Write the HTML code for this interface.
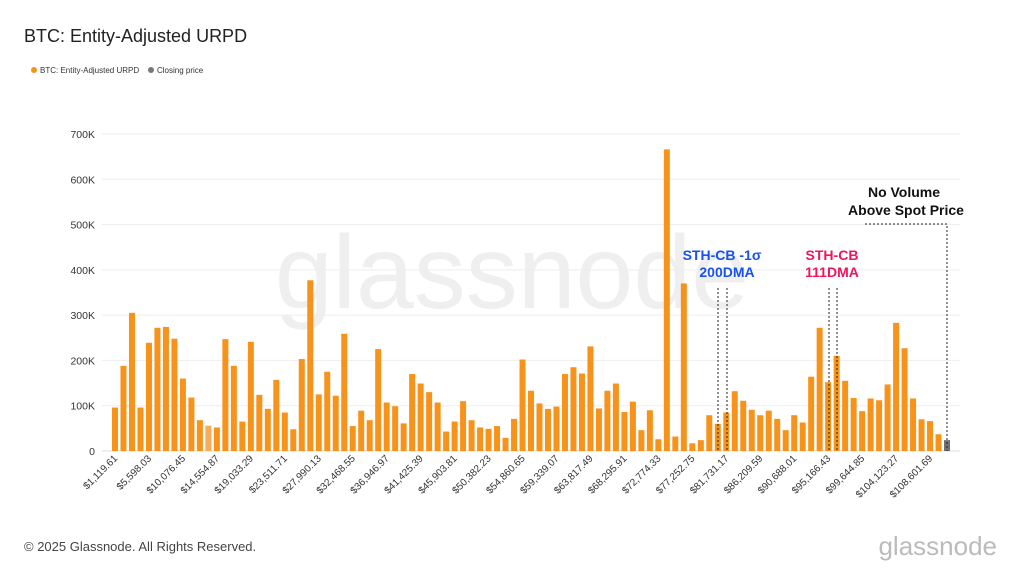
<!DOCTYPE html>
<html><head><meta charset="utf-8"><style>
body{margin:0;width:1024px;height:576px;background:#fff;font-family:"Liberation Sans",sans-serif;overflow:hidden}
</style></head><body>
<svg width="1024" height="576" xmlns="http://www.w3.org/2000/svg" id="chart">
<text x="24" y="42" font-size="18" fill="#222">BTC: Entity-Adjusted URPD</text>
<g>
<circle cx="34" cy="70" r="3" fill="#f7931a"/>
<text x="40" y="73" font-size="8" fill="#333">BTC: Entity-Adjusted URPD</text>
<circle cx="151" cy="70" r="3" fill="#777"/>
<text x="157" y="73" font-size="8" fill="#333">Closing price</text>
</g>
<text x="512" y="308" font-size="104" fill="#efefef" text-anchor="middle">glassnode</text>
<g id="grid"></g><g id="bars"></g><g id="xl"></g>
<g font-weight="bold" font-size="14" text-anchor="middle">
<text x="722" y="260" fill="#1652f0">STH-CB -1σ</text>
<text x="727" y="277" fill="#1652f0">200DMA</text>
<text x="832" y="260" fill="#f0145a">STH-CB</text>
<text x="832" y="277" fill="#f0145a">111DMA</text>
<text x="904" y="197" fill="#111">No Volume</text>
<text x="906" y="215" fill="#111">Above Spot Price</text>
<g stroke="#222" stroke-width="1" stroke-dasharray="2,2" fill="none">
<line x1="718" y1="288" x2="718" y2="451"/><line x1="727" y1="288" x2="727" y2="451"/>
<line x1="829" y1="288" x2="829" y2="451"/><line x1="837" y1="288" x2="837" y2="451"/>
<polyline points="865,224 947,224 947,451"/>
</g></g>
<text x="24" y="551" font-size="13" fill="#444">© 2025 Glassnode. All Rights Reserved.</text>
<text x="997" y="555" font-size="26" fill="#bbb" text-anchor="end">glassnode</text>
</svg>
<script>
const values=[96,188,305,96,239,272,274,248,160,118,68,56,52,247,188,65,241,124,93,157,85,48,203,377,125,175,122,259,55,89,68,225,107,99,61,170,149,130,107,43,65,110,68,52,49,55,29,71,202,133,105,93,98,170,185,171,231,94,133,149,86,109,46,90,26,666,32,370,17,24,79,60,85,132,111,91,79,89,71,46,79,63,164,272,152,210,155,117,88,116,112,147,283,227,116,70,66,37,24];
const yTicks=[0,100,200,300,400,500,600,700];
const yTickLabels=["0","100K","200K","300K","400K","500K","600K","700K"];
const xLabels=["$1,119.61","$5,598.03","$10,076.45","$14,554.87","$19,033.29","$23,511.71","$27,990.13","$32,468.55","$36,946.97","$41,425.39","$45,903.81","$50,382.23","$54,860.65","$59,339.07","$63,817.49","$68,295.91","$72,774.33","$77,252.75","$81,731.17","$86,209.59","$90,688.01","$95,166.43","$99,644.85","$104,123.27","$108,601.69"];
const NS="http://www.w3.org/2000/svg";
const y=v=>451-v*0.4529;
const x=i=>115+i*8.49;
const g=document.getElementById('grid'),b=document.getElementById('bars'),xl=document.getElementById('xl');
yTicks.forEach((t,k)=>{
 const l=document.createElementNS(NS,'line');
 l.setAttribute('x1',102);l.setAttribute('x2',960);l.setAttribute('y1',y(t));l.setAttribute('y2',y(t));
 l.setAttribute('stroke',k==0?'#ddd':'#eee');
 
 
 g.appendChild(l);
 const tx=document.createElementNS(NS,'text');
 tx.setAttribute('x',95);tx.setAttribute('y',y(t)+4);tx.setAttribute('text-anchor','end');tx.setAttribute('font-size','10.5');tx.setAttribute('fill','#333');
 tx.textContent=yTickLabels[k];
 
 
 g.appendChild(tx);
});
values.forEach((v,i)=>{
 const r=document.createElementNS(NS,'rect');
 r.setAttribute('x',x(i)-3);r.setAttribute('width',6);r.setAttribute('y',y(v));r.setAttribute('height',451-y(v));
 r.setAttribute('fill',i==values.length-1?'#6e7076':(i==11?'#f8ac5a':'#f7931a'));
 
 
 b.appendChild(r);
});
xLabels.forEach((s,k)=>{
 const px=x(k*4)+3,py=459;
 const tx=document.createElementNS(NS,'text');
 tx.setAttribute('x',px);tx.setAttribute('y',py);tx.setAttribute('text-anchor','end');tx.setAttribute('font-size','10');tx.setAttribute('fill','#333');
 tx.setAttribute('transform','rotate(-45 '+px+' '+py+')');
 tx.textContent=s;
 
 
 xl.appendChild(tx);
});
</script>
</body></html>
